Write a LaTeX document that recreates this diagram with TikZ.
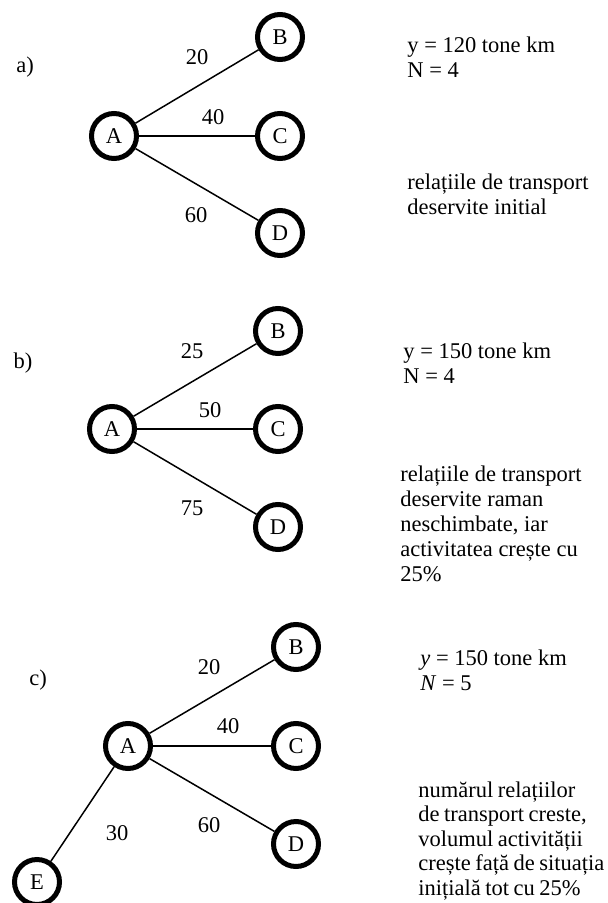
\documentclass[tikz,border=0pt]{standalone}
\usepackage{fontspec}
\setmainfont{Liberation Serif}
\newcommand\tightwords{\spaceskip=0.2em\relax}
\begin{document}
\begin{tikzpicture}[x=0.5pt,y=-0.5pt,font=\fontsize{11.25}{12.5}\selectfont,
  loc/.style={circle,draw,line width=2.5pt,minimum size=22.5pt,inner sep=0pt},
  link/.style={line width=0.75pt},
  note/.style={anchor=base west,align=left,inner sep=0pt}]
\useasboundingbox (0,0) rectangle (608,903);
% a) initial situation
\node at (25,67) (la) {a)};
\node[loc] (aA) at (114,136) {A};
\foreach \n/\y in {B/37,C/136,D/233}{\node[loc] (a\n) at (280,\y) {\n};}
\foreach \n in {B,C,D}{\draw[link] (aA)--(a\n);}
\foreach \x/\y/\t in {197/57/20,213/117/40,196/215/60}{\node (wa\t) at (\x,\y) {\t};}
% base = baseline of the last line
\node[note] (ya) at (407,77.5) {y = 120 tone km\\N = 4};
\node[note] (ra) at (407,215) {relațiile de transport\\deservite initial};
% b) same relations, more activity
\node at (23,363) (lb) {b)};
\node[loc] (bA) at (112,429) {A};
\foreach \n/\y in {B/331,C/429,D/527}{\node[loc] (b\n) at (278,\y) {\n};}
\foreach \n in {B,C,D}{\draw[link] (bA)--(b\n);}
\foreach \x/\y/\t in {192/351/25,210/410/50,192/508/75}{\node (wb\t) at (\x,\y) {\t};}
\node[note] (yb) at (403,383) {y = 150 tone km\\N = 4};
\node[note] (rb) at (400,581) {relațiile de transport\\deservite raman\\neschimbate, iar\\activitatea crește cu\\25\%};
% c) one more relation
\node at (38,680) (lc) {c)};
\node[loc] (cA) at (128,746) {A};
\foreach \n/\y in {B/647,C/746,D/844}{\node[loc] (c\n) at (296,\y) {\n};}
\node[loc] (cE) at (37,882) {E};
\foreach \n in {B,C,D,E}{\draw[link] (cA)--(c\n);}
\foreach \x/\y/\t in {209/667/20,228/726/40,209/825/60,117/833/30}{\node (wc\t) at (\x,\y) {\t};}
\node[note] (yc) at (420,690) {\textit{y} = 150 tone km\\\textit{N} = 5};
\node[note,font=\fontsize{11.25}{12.25}\selectfont\tightwords] (rc) at (418,895) {numărul relațiilor\\de transport creste,\\volumul activității\\crește față de situația\\inițială tot cu 25\%};
\end{tikzpicture}
\end{document}
